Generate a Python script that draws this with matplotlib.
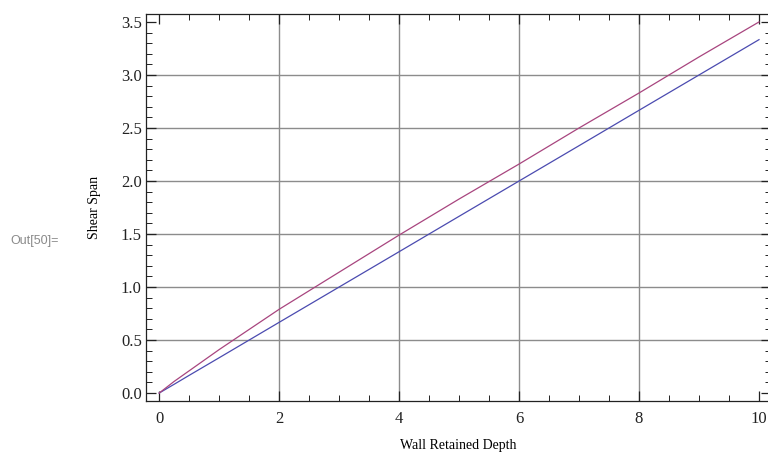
import matplotlib
matplotlib.use("Agg")
import matplotlib.pyplot as plt
from matplotlib.ticker import MultipleLocator, FormatStrFormatter

# Data
depth = [0, 0.25, 0.5, 1, 1.5, 2, 3, 4, 5, 6, 7, 8, 9, 10]
span_purple = [0, 0.11, 0.21, 0.41, 0.60, 0.79, 1.14, 1.49, 1.83, 2.16, 2.50, 2.83, 3.17, 3.50]
span_blue = [0, 0.083, 0.167, 0.333, 0.5, 0.667, 1.0, 1.333, 1.667, 2.0, 2.333, 2.667, 3.0, 3.333]
x_ticks = [0, 2, 4, 6, 8, 10]
y_ticks = [0.0, 0.5, 1.0, 1.5, 2.0, 2.5, 3.0, 3.5]
x_grid = [2, 4, 6, 8]
y_grid = [0.5, 1.0, 1.5, 2.0, 2.5, 3.0]

plt.rcParams['font.family'] = ['Liberation Serif', 'DejaVu Serif']

fig = plt.figure(figsize=(7.68, 4.57), dpi=100)
ax = fig.add_axes([146/768, 1 - 401/457, (771 - 146)/768, (401 - 14)/457])

for g in x_grid:
    ax.axvline(g, color='#8c8c8c', lw=1.0, zorder=0)
for g in y_grid:
    ax.axhline(g, color='#8c8c8c', lw=1.0, zorder=0)

ax.plot(depth, span_blue, color='#4b4bb0', lw=0.9)
ax.plot(depth, span_purple, color='#a8457f', lw=0.9)

ax.set_xlim(-0.22, 10.2)
ax.set_ylim(-0.075, 3.575)
ax.set_xticks(x_ticks)
ax.set_yticks(y_ticks)
ax.yaxis.set_major_formatter(FormatStrFormatter('%.1f'))
ax.xaxis.set_minor_locator(MultipleLocator(0.5))
ax.yaxis.set_minor_locator(MultipleLocator(0.1))
ax.tick_params(which='both', direction='in', top=True, right=True, labelsize=12, colors='#222222')
ax.tick_params(which='major', length=7, width=0.9)
ax.tick_params(which='minor', length=4, width=0.7)
ax.tick_params(axis='x', which='major', pad=7)
ax.tick_params(axis='y', which='major', pad=3)
for s in ax.spines.values():
    s.set_color('#222222')
    s.set_linewidth(0.9)

ax.set_xlabel('Wall Retained Depth', fontsize=10, labelpad=9)
ax.set_ylabel('Shear Span', fontsize=10, labelpad=14)

fig.text(10/768, 1 - 241/457, 'Out[50]=', fontsize=9, color='#8a8a8a',
         family=['Liberation Sans', 'DejaVu Sans'], va='center', ha='left')

fig.savefig('out.png', dpi=100)
